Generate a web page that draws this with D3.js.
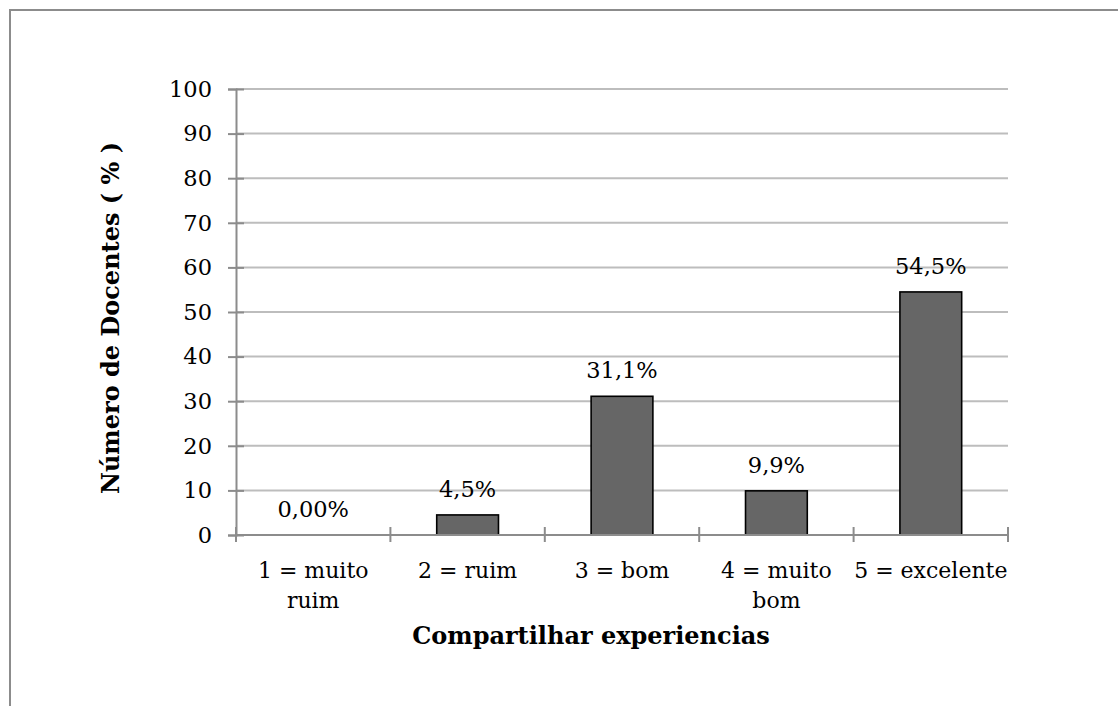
<!DOCTYPE html>
<html>
<head>
<meta charset="utf-8">
<script src="https://cdn.jsdelivr.net/npm/d3@7"></script>
<style>
  html, body { margin: 0; padding: 0; background: #fff; }
  svg { display: block; }
  text { font-family: "DejaVu Serif", serif; fill: #000; }
</style>
</head>
<body>
<svg id="chart" width="1118" height="706"></svg>
<script>
// Survey answers: share of teachers per rating
const categories = ["1 = muito\nruim", "2 = ruim", "3 = bom", "4 = muito\nbom", "5 = excelente"];
const values = [0, 4.5, 31.1, 9.9, 54.5];
const valueLabels = ["0,00%", "4,5%", "31,1%", "9,9%", "54,5%"];
const yTicks = [0, 10, 20, 30, 40, 50, 60, 70, 80, 90, 100];
const xTitle = "Compartilhar experiencias";
const yTitle = "Número de Docentes ( % )";

const svg = d3.select("#chart");
const W = 1118, H = 706;
const plot = { left: 236, right: 1008, top: 89, bottom: 535 };

// frame lines (top and left edges)
svg.append("path")
  .attr("d", `M10,${H} L10,10 L${W},10`)
  .attr("fill", "none").attr("stroke", "#8c8c8c").attr("stroke-width", 2);

const y = d3.scaleLinear().domain([0, 100]).range([plot.bottom, plot.top]);
const x = d3.scaleBand().domain(categories).range([plot.left, plot.right])
  .paddingInner(0.6).paddingOuter(0.3);
const xSlots = d3.scaleBand().domain(categories).range([plot.left, plot.right]);

// horizontal gridlines
svg.append("g").selectAll("line")
  .data(yTicks.filter(d => d > 0))
  .join("line")
  .attr("x1", plot.left).attr("x2", plot.right)
  .attr("y1", d => y(d)).attr("y2", d => y(d))
  .attr("stroke", "#bdbdbd").attr("stroke-width", 2);

// y axis
const yAxis = svg.append("g")
  .attr("transform", `translate(${plot.left},0)`)
  .call(d3.axisLeft(y).tickValues(yTicks).tickSize(8).tickPadding(16).tickFormat(d3.format("d")));
yAxis.select(".domain").attr("stroke", "#8c8c8c").attr("stroke-width", 2);
yAxis.selectAll(".tick line").attr("x1", -8).attr("x2", 8)
  .attr("stroke", "#8c8c8c").attr("stroke-width", 2);
yAxis.selectAll(".tick text")
  .style("font-family", "DejaVu Serif").style("font-size", "22.5px").attr("fill", "#000");

// bars
svg.append("g").selectAll("rect")
  .data(values)
  .join("rect")
  .attr("x", (d, i) => x(categories[i]))
  .attr("width", x.bandwidth())
  .attr("y", d => y(d))
  .attr("height", d => y(0) - y(d))
  .attr("fill", d => d > 0 ? "#666666" : "none")
  .attr("stroke", d => d > 0 ? "#000" : "none")
  .attr("stroke-width", 1.6);

// x axis line with crossing ticks at slot boundaries
const xAxis = svg.append("g").attr("transform", `translate(0,${plot.bottom})`);
xAxis.append("line")
  .attr("x1", plot.left).attr("x2", plot.right)
  .attr("stroke", "#8c8c8c").attr("stroke-width", 2);
const boundaries = categories.map(c => xSlots(c)).concat([xSlots.range()[1]]);
xAxis.selectAll("line.tick")
  .data(boundaries)
  .join("line").attr("class", "tick")
  .attr("x1", d => d).attr("x2", d => d)
  .attr("y1", -8).attr("y2", 7)
  .attr("stroke", "#8c8c8c").attr("stroke-width", 2);

// category labels (may span two lines)
const catLabels = svg.append("g").selectAll("text")
  .data(categories)
  .join("text")
  .attr("text-anchor", "middle")
  .attr("x", d => xSlots(d) + xSlots.bandwidth() / 2)
  .attr("y", 578)
  .style("font-size", "22px");
catLabels.each(function (d) {
  const t = d3.select(this);
  d.split("\n").forEach((line, k) => {
    t.append("tspan")
      .attr("x", xSlots(d) + xSlots.bandwidth() / 2)
      .attr("dy", k === 0 ? 0 : 30)
      .text(line);
  });
});

// value labels above bars
svg.append("g").selectAll("text")
  .data(values)
  .join("text")
  .attr("text-anchor", "middle")
  .attr("x", (d, i) => x(categories[i]) + x.bandwidth() / 2)
  .attr("y", d => y(d) - 18)
  .style("font-size", "22.5px")
  .text((d, i) => valueLabels[i]);

// axis titles
svg.append("text")
  .attr("x", 591).attr("y", 644)
  .attr("text-anchor", "middle")
  .style("font-size", "24px").style("font-weight", "bold")
  .text(xTitle);

svg.append("text")
  .attr("transform", "translate(119,318) rotate(-90)")
  .attr("text-anchor", "middle")
  .style("font-size", "24px").style("font-weight", "bold")
  .text(yTitle);
</script>
</body>
</html>
